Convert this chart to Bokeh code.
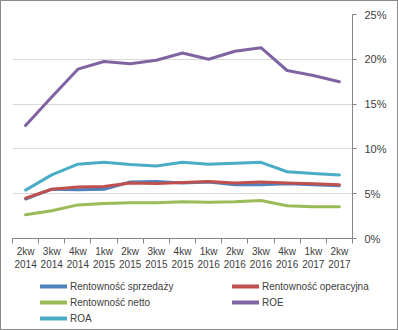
from bokeh.plotting import figure
from bokeh.layouts import column
from bokeh.models import FixedTicker, NumeralTickFormatter, Range1d, Legend, LegendItem
from bokeh.embed import file_html
from bokeh.resources import INLINE

categories = ["2kw\n2014", "3kw\n2014", "4kw\n2014", "1kw\n2015", "2kw\n2015", "3kw\n2015",
              "4kw\n2015", "1kw\n2016", "2kw\n2016", "3kw\n2016", "4kw\n2016", "1kw\n2017", "2kw\n2017"]

rent_sprzedazy = [4.4, 5.5, 5.45, 5.5, 6.3, 6.35, 6.2, 6.3, 6.0, 6.0, 6.1, 6.0, 5.9]
rent_operacyjna = [4.5, 5.5, 5.75, 5.8, 6.2, 6.15, 6.25, 6.35, 6.2, 6.3, 6.2, 6.1, 6.0]
rent_netto = [2.65, 3.1, 3.75, 3.9, 4.0, 4.0, 4.1, 4.05, 4.1, 4.25, 3.65, 3.55, 3.55]
roe = [12.6, 15.8, 18.9, 19.75, 19.5, 19.9, 20.7, 20.0, 20.9, 21.3, 18.75, 18.2, 17.5]
roa = [5.4, 7.1, 8.3, 8.5, 8.25, 8.1, 8.5, 8.3, 8.4, 8.5, 7.45, 7.25, 7.1]

series_names = ["Rentowność sprzedaży", "Rentowność operacyjna", "Rentowność netto", "ROE", "ROA"]
series_values = [rent_sprzedazy, rent_operacyjna, rent_netto, roe, roa]
colors = ["#4F81BD", "#C0504D", "#9BBB59", "#8064A2", "#4BACC6"]

FONT = "Liberation Sans"
TEXT = "#404040"

n = len(categories)
xs = list(range(n))

p = figure(width=396, height=275, output_backend="svg", toolbar_location=None,
           x_range=Range1d(-0.5, n - 0.5), y_range=Range1d(0, 0.25),
           y_axis_location="right",
           min_border_left=11, min_border_top=13, min_border_right=45, min_border_bottom=38)
p.outline_line_color = None
p.background_fill_color = "white"
p.border_fill_color = "white"

p.xgrid.grid_line_color = None
p.ygrid.grid_line_color = "#D9D9D9"
p.ygrid.grid_line_width = 1

# x axis
xa = p.xaxis[0]
xa.ticker = FixedTicker(ticks=xs, minor_ticks=[i - 0.5 for i in range(n + 1)])
xa.major_label_overrides = {i: c for i, c in enumerate(categories)}
xa.major_tick_line_color = None
xa.major_tick_out = 0
xa.major_tick_in = 0
xa.minor_tick_line_color = "#868686"
xa.minor_tick_out = 5
xa.minor_tick_in = 0
xa.axis_line_color = "#868686"
xa.major_label_standoff = 2
xa.major_label_text_font = FONT
xa.major_label_text_font_size = "10px"
xa.major_label_text_color = TEXT

# y axis
ya = p.yaxis[0]
ya.ticker = FixedTicker(ticks=[0, 0.05, 0.10, 0.15, 0.20, 0.25])
ya.formatter = NumeralTickFormatter(format="0%")
ya.axis_line_color = "#868686"
ya.major_tick_line_color = "#868686"
ya.major_tick_out = 4
ya.major_tick_in = 0
ya.minor_tick_line_color = None
ya.major_label_standoff = 8
ya.major_label_text_font = FONT
ya.major_label_text_font_size = "11px"
ya.major_label_text_color = TEXT

# legend figure (below the chart)
p2 = figure(width=396, height=53, output_backend="svg", toolbar_location=None,
            x_range=p.x_range, y_range=p.y_range,
            x_axis_location=None, y_axis_location=None, min_border=0)
p2.frame_align = False
p2.outline_line_color = None
p2.xgrid.grid_line_color = None
p2.ygrid.grid_line_color = None
p2.background_fill_color = "white"
p2.border_fill_color = "white"

items = []
for name, vals, col in zip(series_names, series_values, colors):
    ys = [v / 100 for v in vals]
    p.line(xs, ys, line_color=col, line_width=3, line_join="round", line_cap="round")
    r2 = p2.line(xs, ys, line_color=col, line_width=4, line_cap="round", visible=False)
    items.append(LegendItem(label=name, renderers=[r2]))

legend = Legend(items=items, location=(39, 5), orientation="horizontal", ncols=2,
                glyph_width=27, glyph_height=12, label_standoff=3,
                label_height=12, label_width=158, spacing=4,
                padding=0, margin=0, border_line_color=None, background_fill_alpha=0,
                inactive_fill_alpha=0,
                label_text_font=FONT, label_text_font_size="10px", label_text_color=TEXT)
p2.add_layout(legend, "center")

layout = column(p, p2, spacing=0)
layout.styles = {"border": "1px solid #8a8a8a", "background-color": "white"}

open("out.html", "w").write(file_html(layout, INLINE))
